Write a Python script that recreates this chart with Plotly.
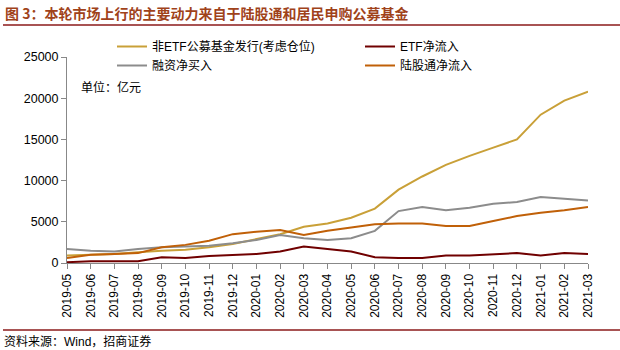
import plotly.graph_objects as go

months = ["2019-05","2019-06","2019-07","2019-08","2019-09","2019-10","2019-11","2019-12",
          "2020-01","2020-02","2020-03","2020-04","2020-05","2020-06","2020-07","2020-08",
          "2020-09","2020-10","2020-11","2020-12","2021-01","2021-02","2021-03"]
non_etf = [900, 1000, 1100, 1300, 1500, 1600, 1900, 2300, 2900, 3500, 4400, 4800, 5500, 6600,
           8900, 10500, 11900, 13000, 14000, 15000, 18000, 19700, 20800]
etf = [100, 200, 200, 200, 700, 600, 850, 1000, 1100, 1400, 2000, 1700, 1400, 700,
       600, 600, 900, 900, 1050, 1200, 900, 1200, 1100]
margin = [1700, 1500, 1400, 1700, 1900, 2000, 2100, 2400, 2800, 3400, 3000, 2800, 3000, 3900,
          6300, 6800, 6400, 6700, 7200, 7400, 8000, 7800, 7600]
northbound = [600, 1000, 1100, 1200, 1900, 2200, 2700, 3500, 3800, 4000, 3400, 3900, 4300, 4700,
              4800, 4800, 4500, 4500, 5100, 5700, 6100, 6400, 6800]
y_ticks = [0, 5000, 10000, 15000, 20000, 25000]

names = ["非ETF公募基金发行(考虑仓位)", "ETF净流入", "融资净买入", "陆股通净流入"]
colors = ["#C9A038", "#700000", "#8C8C8C", "#C06008"]
series = [non_etf, etf, margin, northbound]
legends = ["legend", "legend2", "legend", "legend2"]

FONT = "Liberation Sans, Arial, Noto Sans CJK SC, sans-serif"

fig = go.Figure()
for n, c, s, lg in zip(names, colors, series, legends):
    fig.add_trace(go.Scatter(x=months, y=s, name=n, mode="lines",
                             line=dict(color=c, width=2), legend=lg))

L, R, T, B = 67, 32, 57, 87
W, H = 620, 350
pw, ph = W - L - R, H - T - B

def px(x):
    return (x - L) / pw

def py(y):
    return (H - B - y) / ph

fig.update_layout(
    width=W, height=H,
    margin=dict(l=L, r=R, t=T, b=B),
    paper_bgcolor="white", plot_bgcolor="white",
    font=dict(family=FONT, size=12, color="#000000"),
    showlegend=True,
    legend=dict(x=px(112), y=py(32), xanchor="left", yanchor="top",
                orientation="v", bgcolor="rgba(0,0,0,0)", tracegroupgap=0,
                font=dict(family=FONT, size=12, color="#000")),
    legend2=dict(x=px(360), y=py(32), xanchor="left", yanchor="top",
                 orientation="v", bgcolor="rgba(0,0,0,0)", tracegroupgap=0,
                 font=dict(family=FONT, size=12, color="#000")),
    xaxis=dict(type="category", range=[0, len(months) - 1],
               tickmode="array", tickvals=months, ticktext=months,
               tickangle=-90, ticks="outside", ticklen=5, tickcolor="#888",
               showline=True, linecolor="#888", linewidth=1,
               showgrid=False, zeroline=False,
               tickfont=dict(family=FONT, size=12, color="#000")),
    yaxis=dict(range=[0, 25000], tickmode="array", tickvals=y_ticks,
               ticktext=[str(v) for v in y_ticks],
               ticks="outside", ticklen=5, tickcolor="#888",
               showline=True, linecolor="#888", linewidth=1,
               showgrid=False, zeroline=False,
               tickfont=dict(family=FONT, size=12.5, color="#000")),
)

fig.add_annotation(text="<b>图 3：本轮市场上行的主要动力来自于陆股通和居民申购公募基金</b>",
                   xref="paper", yref="paper", x=px(3), y=py(13),
                   xanchor="left", yanchor="middle", showarrow=False,
                   font=dict(family="Noto Sans CJK SC, sans-serif", size=14, color="#A0421A"))
fig.add_annotation(text="单位：亿元", xref="paper", yref="paper", x=px(79), y=py(87),
                   xanchor="left", yanchor="middle", showarrow=False,
                   font=dict(family=FONT, size=12, color="#000"))
fig.add_annotation(text="资料来源：Wind，招商证券", xref="paper", yref="paper", x=px(2), y=py(341),
                   xanchor="left", yanchor="middle", showarrow=False,
                   font=dict(family=FONT, size=12, color="#000"))

fig.add_shape(type="line", xref="paper", yref="paper", x0=px(3), x1=px(620),
              y0=py(25), y1=py(25), line=dict(color="#8B1A1A", width=1.5))
fig.add_shape(type="line", xref="paper", yref="paper", x0=px(3), x1=px(620),
              y0=py(330), y1=py(330), line=dict(color="#8B1A1A", width=1.5))

fig.write_html("out.html")
